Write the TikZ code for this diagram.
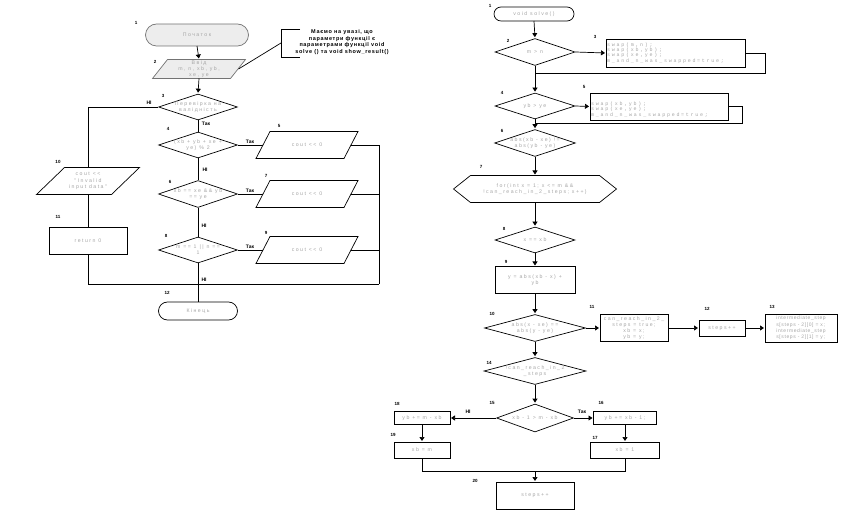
\documentclass[tikz,border=0pt]{standalone}
\usepackage{fontspec}
\setmainfont{Liberation Sans}
\newfontfamily\nf[LetterSpace=28]{Liberation Sans}
\newfontfamily\mf[LetterSpace=35]{Liberation Mono}
\newfontfamily\cf[LetterSpace=12]{Liberation Sans}
\usetikzlibrary{shapes.geometric,shapes.misc,arrows.meta,backgrounds}
\definecolor{txtgray}{HTML}{A6A6A6}
\tikzset{
 base/.style={inner sep=0pt, outer sep=0pt, font=\nf\fontsize{5.2}{6.2}\selectfont, text=txtgray, align=center},
 mono/.style={inner sep=0pt, font=\mf\fontsize{5}{5.4}\selectfont, text=txtgray, align=left},
 shp/.style={draw, line width=0.7pt},
 dec/.style 2 args={shp, diamond, inner sep=0pt, minimum width=#1, minimum height=#2},
 txt/.style={label={[base]center:{#1}}},
 io/.style 2 args={base, rectangle, minimum width=#1, minimum height=#2},
 box/.style 2 args={base, shp, rectangle, minimum width=#1, minimum height=#2},
 term/.style 2 args={base, shp, rounded rectangle, minimum width=#1, minimum height=#2},
 num/.style={inner sep=0pt, font=\bfseries\fontsize{4.5}{5}\selectfont},
 yn/.style={inner sep=0pt, font=\bfseries\fontsize{5}{6}\selectfont},
 ln/.style={line width=0.7pt},
 arr/.style={ln, -{Triangle[length=4pt,width=5pt]}, shorten >=1pt},
}
\newcommand\paral[3][]{\begin{pgfonlayer}{background}\draw[shp,fill=white,#1] ([xshift=#3]#2.north west) -- (#2.north east) -- ([xshift=-#3]#2.south east) -- (#2.south west) -- cycle;\end{pgfonlayer}}
\begin{document}
\begin{tikzpicture}[x=1pt,y=-1pt]
\useasboundingbox (0,0) rectangle (845,510);

% ---------------- left chart ----------------
\node[term={103}{22}, fill=black!7, draw=black!55] (L1) at (197,35) {Початок};
\node[io={93}{19}] (L2) at (199,69) {Ввід\\m, n, xb, yb,\\xe, ye};
\paral[fill=black!7, draw=black!55]{L2}{15pt}
\node[dec={79}{26}, txt={Перевірка на\\валідність}] (L3) at (198,107) {};
\node[dec={79}{26}, txt={(xb + yb + xe +\\ye) \% 2}] (L4) at (198,145) {};
\node[io={102}{27}] (L5) at (307,145) {cout << 0};
\paral{L5}{14pt}
\node[dec={79}{27}, txt={xb == xe \&\& yb\\== ye}] (L6) at (198,194) {};
\node[io={102}{27}] (L7) at (307,194) {cout << 0};
\paral{L7}{14pt}
\node[dec={79}{26}, txt={m == 1 || n ==\\1}] (L8) at (198,250) {};
\node[io={102}{27}] (L9) at (307,250) {cout << 0};
\paral{L9}{14pt}
\node[io={103}{27}] (L10) at (88,181) {cout <<\\"Invalid\\input data"};
\paral{L10}{28pt}
\node[box={78}{27}] (L11) at (88,241) {return 0};
\node[term={79}{18}] (L12) at (198,311) {Кінець};
\coordinate (Lm) at (379,284);

\node[align=center, inner sep=0pt, font=\cf\bfseries\fontsize{5.5}{6.6}\selectfont] (C) at (342,42) {Маємо на увазі, що\\параметри функції є\\параметрами функції void\\solve () та void show\_result()};
\coordinate (Ct) at (300,29);
\coordinate (Cb) at (300,57);
\coordinate (Cm) at (281,43);
\draw[ln] (Ct) -- (Ct -| Cm) -- (Cb -| Cm) -- (Cb);
\draw[ln] (Cm) -- ([xshift=-7pt]L2.east);

\draw[arr] (L1.south) -- (L2.north);
\draw[arr] (L2.south) -- (L3.north);
\draw[ln] (L3.south) -- (L4.north);
\draw[ln] (L4.south) -- (L6.north);
\draw[ln] (L6.south) -- (L8.north);
\draw[ln] (L8.south) -- (L12.north);
\draw[ln] (L3.west) -| (L10.north);
\draw[ln] (L10.south) -- (L11.north);
\draw[ln] (L11.south) |- (Lm);
\draw[ln] (L4.east) -- ([xshift=7pt]L5.west);
\draw[ln] (L6.east) -- ([xshift=7pt]L7.west);
\draw[ln] (L8.east) -- ([xshift=7pt]L9.west);
\draw[ln] ([xshift=-7pt]L5.east) -| (Lm);
\draw[ln] ([xshift=-7pt]L7.east) -- (L7.east -| Lm);
\draw[ln] ([xshift=-7pt]L9.east) -- (L9.east -| Lm);

\node[yn] (y1) at (149,103) {НІ};
\node[yn] (y2) at (206,124) {Так};
\node[yn] (y3) at (250,142) {Так};
\node[yn] (y4) at (205,170) {НІ};
\node[yn] (y5) at (250,191) {Так};
\node[yn] (y6) at (204,226) {НІ};
\node[yn] (y7) at (250,247) {Так};
\node[yn] (y8) at (204,280) {НІ};

\node[num] (a1) at (136,23) {1};
\node[num] (a2) at (155,62) {2};
\node[num] (a3) at (163,96) {3};
\node[num] (a4) at (168,129) {4};
\node[num] (a5) at (279,126) {5};
\node[num] (a6) at (170,182) {6};
\node[num] (a7) at (266,176) {7};
\node[num] (a8) at (166,236) {8};
\node[num] (a9) at (266,233) {9};
\node[num] (a10) at (58,162) {10};
\node[num] (a11) at (58,217) {11};
\node[num] (a12) at (167,293) {12};

% ---------------- right chart ----------------
\node[term={80}{14}] (R1) at (534,14) {void solve()};
\node[dec={80}{27}, txt={m > n}] (R2) at (535,52) {};
\node[box={139}{28}, mono, text width=137pt] (R3) at (675.5,53) {swap(m, n);\\swap(xb, yb);\\swap(xe, ye);\\m\_and\_n\_was\_swapped = true;};
\coordinate (R3c) at (765,73);
\coordinate (J1) at (535,73);
\draw[arr] (R1.south) -- (R2.north);
\draw[arr] (R2.east) -- (R3.west);
\draw[ln] (R3.east) -| (R3c) -- (J1);
\node[dec={80}{26}, txt={yb > ye}] (R4) at (535,106) {};
\draw[arr] (R2.south) -- (R4.north);
\node[box={138}{27}, mono, text width=136pt, text depth=6pt] (R5) at (659,106.5) {swap(xb, yb);\\swap(xe, ye);\\m\_and\_n\_was\_swapped = true;};
\coordinate (R5c) at (742,123);
\coordinate (J2) at (535,123);
\draw[arr] (R4.east) -- (R5.west);
\draw[ln] (R5.east) -| (R5c) -- (J2);
\node[dec={81}{27}, txt={abs(xb - xe) !=\\abs(yb - ye)}] (R6) at (535,143) {};
\draw[arr] (R4.south) -- (R6.north);
\node[base, minimum width=163, minimum height=27] (R7) at (535,189) {for(int x = 1; x <= m \&\&\\!can\_reach\_in\_2\_steps; x++)};
\draw[ln] (R7.west) -- ([xshift=17pt]R7.north west) -- ([xshift=-17pt]R7.north east) -- (R7.east) -- ([xshift=-17pt]R7.south east) -- ([xshift=17pt]R7.south west) -- cycle;
\draw[arr] (R6.south) -- (R7.north);
\node[dec={80}{26}, txt={x == xb}] (R8) at (535,240) {};
\draw[arr] (R7.south) -- (R8.north);
\node[box={80}{27}] (R9) at (535,280) {y = abs(xb - x) +\\yb};
\draw[arr] (R8.south) -- (R9.north);
\node[dec={101}{27}, txt={abs(x - xe) ==\\abs(y - ye)}] (R10) at (535,328) {};
\draw[arr] (R9.south) -- (R10.north);
\node[box={68}{27}] (R11) at (634,328) {can\_reach\_in\_2\_\\steps = true;\\xb = x;\\yb = y;};
\node[box={46}{16}] (R12) at (722,328) {steps++};
\node[box={72}{28}, align=left, font=\cf\fontsize{5}{6.3}\selectfont] (R13) at (801,328) {intermediate\_step\\s[steps - 2][0] = x;\\intermediate\_step\\s[steps - 2][1] = y;};
\draw[arr] (R10.east) -- (R11.west);
\draw[arr] (R11.east) -- (R12.west);
\draw[arr] (R12.east) -- (R13.west);
\node[dec={102}{27}, txt={!can\_reach\_in\_2\\\_steps}] (R14) at (535,371) {};
\draw[arr] (R10.south) -- (R14.north);
\node[dec={77}{28}, txt={xb - 1 > m - xb}] (R15) at (535,418) {};
\draw[arr] (R14.south) -- (R15.north);
\node[box={63}{13}] (R16) at (625,418) {yb += xb - 1;};
\node[box={56}{13}] (R18) at (422,418) {yb += m - xb};
\node[box={69}{16}] (R17) at (625,450) {xb = 1};
\node[box={56}{16}] (R19) at (422,450) {xb = m};
\draw[arr] (R15.east) -- (R16.west);
\draw[arr] (R15.west) -- (R18.east);
\draw[arr] (R16.south) -- (R17.north);
\draw[arr] (R18.south) -- (R19.north);
\coordinate (J3) at (535,471);
\draw[ln] (R19.south) |- (J3);
\draw[ln] (R17.south) |- (J3);
\node[box={78}{27}] (R20) at (535,495.5) {steps++};
\draw[arr] (J3) -- (R20.north);

\node[yn] (y9) at (468,412) {НІ};
\node[yn] (y10) at (582,412) {Так};

\node[num] (b1) at (490,6) {1};
\node[num] (b2) at (508,41) {2};
\node[num] (b3) at (595,37) {3};
\node[num] (b4) at (502,93) {4};
\node[num] (b5) at (584,87) {5};
\node[num] (b6) at (502,131) {6};
\node[num] (b7) at (481,167) {7};
\node[num] (b8) at (504,229) {8};
\node[num] (b9) at (506,262) {9};
\node[num] (b10) at (492,314) {10};
\node[num] (b11) at (592,307) {11};
\node[num] (b12) at (707,309) {12};
\node[num] (b13) at (772,307) {13};
\node[num] (b14) at (489,363) {14};
\node[num] (b15) at (492,403) {15};
\node[num] (b16) at (601,403) {16};
\node[num] (b17) at (595,438) {17};
\node[num] (b18) at (397,404) {18};
\node[num] (b19) at (393,435) {19};
\node[num] (b20) at (475,481) {20};
\end{tikzpicture}
\end{document}
